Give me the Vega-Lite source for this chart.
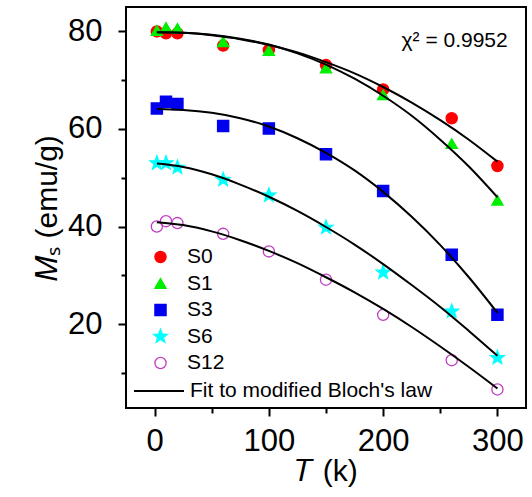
{
  "$schema": "https://vega.github.io/schema/vega-lite/v6.json",
  "width": 400,
  "height": 401,
  "autosize": {"type": "none"},
  "padding": {"left": 126, "top": 7, "right": 6, "bottom": 89},
  "background": "white",
  "config": {
    "view": {"stroke": "black", "strokeWidth": 2},
    "font": "Liberation Sans",
    "axis": {
      "domain": false,
      "grid": false,
      "labelFont": "Liberation Sans",
      "labelFontSize": 31,
      "labelColor": "black",
      "titleFont": "Liberation Sans",
      "titleFontSize": 30,
      "titleFontWeight": "normal",
      "titleColor": "black",
      "tickColor": "black",
      "tickWidth": 2
    },
    "legend": {
      "labelFont": "Liberation Sans",
      "labelFontSize": 21,
      "labelColor": "black",
      "labelLimit": 400,
      "padding": 0
    }
  },
  "datasets": {
    "points": [
      {"series": "S0", "T": 2, "M": 80.0}, {"series": "S0", "T": 10, "M": 79.6}, {"series": "S0", "T": 20, "M": 79.6},
      {"series": "S0", "T": 60, "M": 77.1}, {"series": "S0", "T": 100, "M": 76.2}, {"series": "S0", "T": 150, "M": 73.1},
      {"series": "S0", "T": 200, "M": 68.1}, {"series": "S0", "T": 260, "M": 62.2}, {"series": "S0", "T": 300, "M": 52.4},
      {"series": "S1", "T": 2, "M": 80.2}, {"series": "S1", "T": 10, "M": 80.8}, {"series": "S1", "T": 20, "M": 80.6},
      {"series": "S1", "T": 60, "M": 77.9}, {"series": "S1", "T": 100, "M": 76.1}, {"series": "S1", "T": 150, "M": 72.5},
      {"series": "S1", "T": 200, "M": 67.0}, {"series": "S1", "T": 260, "M": 57.0}, {"series": "S1", "T": 300, "M": 45.4},
      {"series": "S3", "T": 2, "M": 64.2}, {"series": "S3", "T": 10, "M": 65.6}, {"series": "S3", "T": 20, "M": 65.1},
      {"series": "S3", "T": 60, "M": 60.6}, {"series": "S3", "T": 100, "M": 60.1}, {"series": "S3", "T": 150, "M": 54.8},
      {"series": "S3", "T": 200, "M": 47.3}, {"series": "S3", "T": 260, "M": 34.2}, {"series": "S3", "T": 300, "M": 21.9},
      {"series": "S6", "T": 2, "M": 53.0}, {"series": "S6", "T": 10, "M": 53.0}, {"series": "S6", "T": 20, "M": 52.1},
      {"series": "S6", "T": 60, "M": 49.6}, {"series": "S6", "T": 100, "M": 46.4}, {"series": "S6", "T": 150, "M": 39.8},
      {"series": "S6", "T": 200, "M": 30.6}, {"series": "S6", "T": 260, "M": 22.6}, {"series": "S6", "T": 300, "M": 13.1},
      {"series": "S12", "T": 2, "M": 40.0}, {"series": "S12", "T": 10, "M": 41.1}, {"series": "S12", "T": 20, "M": 40.7},
      {"series": "S12", "T": 60, "M": 38.5}, {"series": "S12", "T": 100, "M": 34.9}, {"series": "S12", "T": 150, "M": 29.1},
      {"series": "S12", "T": 200, "M": 21.9}, {"series": "S12", "T": 260, "M": 12.6}, {"series": "S12", "T": 300, "M": 6.6}
    ],
    "fits": [
      {"series": "S0", "T": 2, "M": 79.8}, {"series": "S0", "T": 25, "M": 79.7}, {"series": "S0", "T": 50, "M": 79.2},
      {"series": "S0", "T": 75, "M": 78.4}, {"series": "S0", "T": 100, "M": 77.2}, {"series": "S0", "T": 125, "M": 75.7},
      {"series": "S0", "T": 150, "M": 73.7}, {"series": "S0", "T": 175, "M": 71.4}, {"series": "S0", "T": 200, "M": 68.6},
      {"series": "S0", "T": 225, "M": 65.4}, {"series": "S0", "T": 250, "M": 61.8}, {"series": "S0", "T": 275, "M": 57.8},
      {"series": "S0", "T": 300, "M": 53.3},
      {"series": "S1", "T": 2, "M": 79.8}, {"series": "S1", "T": 25, "M": 79.7}, {"series": "S1", "T": 50, "M": 79.3},
      {"series": "S1", "T": 75, "M": 78.5}, {"series": "S1", "T": 100, "M": 77.3}, {"series": "S1", "T": 125, "M": 75.5},
      {"series": "S1", "T": 150, "M": 73.2}, {"series": "S1", "T": 175, "M": 70.3}, {"series": "S1", "T": 200, "M": 66.8},
      {"series": "S1", "T": 225, "M": 62.7}, {"series": "S1", "T": 250, "M": 57.8}, {"series": "S1", "T": 275, "M": 52.3},
      {"series": "S1", "T": 300, "M": 46.0},
      {"series": "S3", "T": 2, "M": 64.1}, {"series": "S3", "T": 25, "M": 63.9}, {"series": "S3", "T": 50, "M": 63.3},
      {"series": "S3", "T": 75, "M": 62.2}, {"series": "S3", "T": 100, "M": 60.5}, {"series": "S3", "T": 125, "M": 58.1},
      {"series": "S3", "T": 150, "M": 55.1}, {"series": "S3", "T": 175, "M": 51.5}, {"series": "S3", "T": 200, "M": 47.1},
      {"series": "S3", "T": 225, "M": 42.0}, {"series": "S3", "T": 250, "M": 36.2}, {"series": "S3", "T": 275, "M": 29.6},
      {"series": "S3", "T": 300, "M": 22.3},
      {"series": "S6", "T": 2, "M": 52.9}, {"series": "S6", "T": 25, "M": 52.2}, {"series": "S6", "T": 50, "M": 50.7},
      {"series": "S6", "T": 75, "M": 48.6}, {"series": "S6", "T": 100, "M": 46.1}, {"series": "S6", "T": 125, "M": 43.2},
      {"series": "S6", "T": 150, "M": 39.9}, {"series": "S6", "T": 175, "M": 36.3}, {"series": "S6", "T": 200, "M": 32.3},
      {"series": "S6", "T": 225, "M": 28.0}, {"series": "S6", "T": 250, "M": 23.5}, {"series": "S6", "T": 275, "M": 18.6},
      {"series": "S6", "T": 300, "M": 13.5},
      {"series": "S12", "T": 2, "M": 40.9}, {"series": "S12", "T": 25, "M": 40.3}, {"series": "S12", "T": 50, "M": 39.0},
      {"series": "S12", "T": 75, "M": 37.2}, {"series": "S12", "T": 100, "M": 35.0}, {"series": "S12", "T": 125, "M": 32.5},
      {"series": "S12", "T": 150, "M": 29.6}, {"series": "S12", "T": 175, "M": 26.5}, {"series": "S12", "T": 200, "M": 23.1},
      {"series": "S12", "T": 225, "M": 19.4}, {"series": "S12", "T": 250, "M": 15.4}, {"series": "S12", "T": 275, "M": 11.2},
      {"series": "S12", "T": 300, "M": 6.8}
    ],
    "note": [
      {"T": 309, "M": 78.1, "label": "χ² = 0.9952"}
    ]
  },
  "encoding": {
    "x": {
      "field": "T",
      "type": "quantitative",
      "scale": {"domain": [-25, 325], "nice": false, "zero": false},
      "axis": {
        "title": "𝑇 (k)",
        "values": [0, 50, 100, 150, 200, 250, 300],
        "labelExpr": "datum.value % 100 === 0 ? datum.label : ''",
        "tickSize": {"condition": {"test": "datum.value % 100 === 0", "value": 8}, "value": 5},
        "labelPadding": 10,
        "titlePadding": 0,
        "labelFlush": false,
        "labelOverlap": false
      }
    },
    "y": {
      "field": "M",
      "type": "quantitative",
      "scale": {"domain": [2.8, 85], "nice": false, "zero": false},
      "axis": {
        "title": "𝑀ₛ (emu/g)",
        "values": [10, 20, 30, 40, 50, 60, 70, 80],
        "labelExpr": "datum.value % 20 === 0 ? datum.label : ''",
        "tickSize": {"condition": {"test": "datum.value % 20 === 0", "value": 8}, "value": 5},
        "labelPadding": 16,
        "titlePadding": 5,
        "labelFlush": false,
        "labelOverlap": false
      }
    }
  },
  "layer": [
    {
      "data": {"name": "points"},
      "mark": {"type": "point", "size": 125, "strokeWidth": 1.3, "opacity": 1},
      "encoding": {
        "shape": {
          "field": "series", "type": "nominal",
          "scale": {"domain": ["S0", "S1", "S3", "S6", "S12"],
                    "range": ["circle", "triangle-up", "square", "M0,-1.3L0.32,-0.44L1.24,-0.4L0.52,0.17L0.76,1.05L0,0.55L-0.76,1.05L-0.52,0.17L-1.24,-0.4L-0.32,-0.44Z", "circle"]},
          "legend": {"title": null, "orient": "none", "legendX": 24, "legendY": 239.5, "symbolSize": 125, "symbolStrokeWidth": 1.3, "labelOffset": 16, "rowPadding": 4.5}
        },
        "fill": {
          "field": "series", "type": "nominal",
          "scale": {"domain": ["S0", "S1", "S3", "S6", "S12"],
                    "range": ["#FF0000", "#00EE00", "#0000EE", "#00FFFF", "transparent"]},
          "legend": {"title": null, "orient": "none", "legendX": 24, "legendY": 239.5, "symbolSize": 125, "symbolStrokeWidth": 1.3, "labelOffset": 16, "rowPadding": 4.5}
        },
        "stroke": {
          "field": "series", "type": "nominal",
          "scale": {"domain": ["S0", "S1", "S3", "S6", "S12"],
                    "range": ["#FF0000", "#00EE00", "#0000EE", "#00FFFF", "#C03CC0"]},
          "legend": {"title": null, "orient": "none", "legendX": 24, "legendY": 239.5, "symbolSize": 125, "symbolStrokeWidth": 1.3, "labelOffset": 16, "rowPadding": 4.5}
        }
      }
    },
    {
      "data": {"name": "fits"},
      "mark": {"type": "line", "strokeWidth": 2, "interpolate": "monotone"},
      "encoding": {
        "detail": {"field": "series", "type": "nominal"},
        "color": {
          "datum": "Fit to modified Bloch's law",
          "type": "nominal",
          "scale": {"range": ["black"]},
          "legend": {"title": null, "orient": "none", "legendX": 7, "legendY": 358, "symbolType": "stroke", "symbolSize": 2500, "symbolStrokeWidth": 2, "labelOffset": 5}
        }
      }
    },
    {
      "data": {"name": "note"},
      "mark": {"type": "text", "align": "right", "baseline": "middle", "fontSize": 21, "font": "Liberation Sans", "color": "black"},
      "encoding": {
        "text": {"field": "label"}
      }
    }
  ]
}
